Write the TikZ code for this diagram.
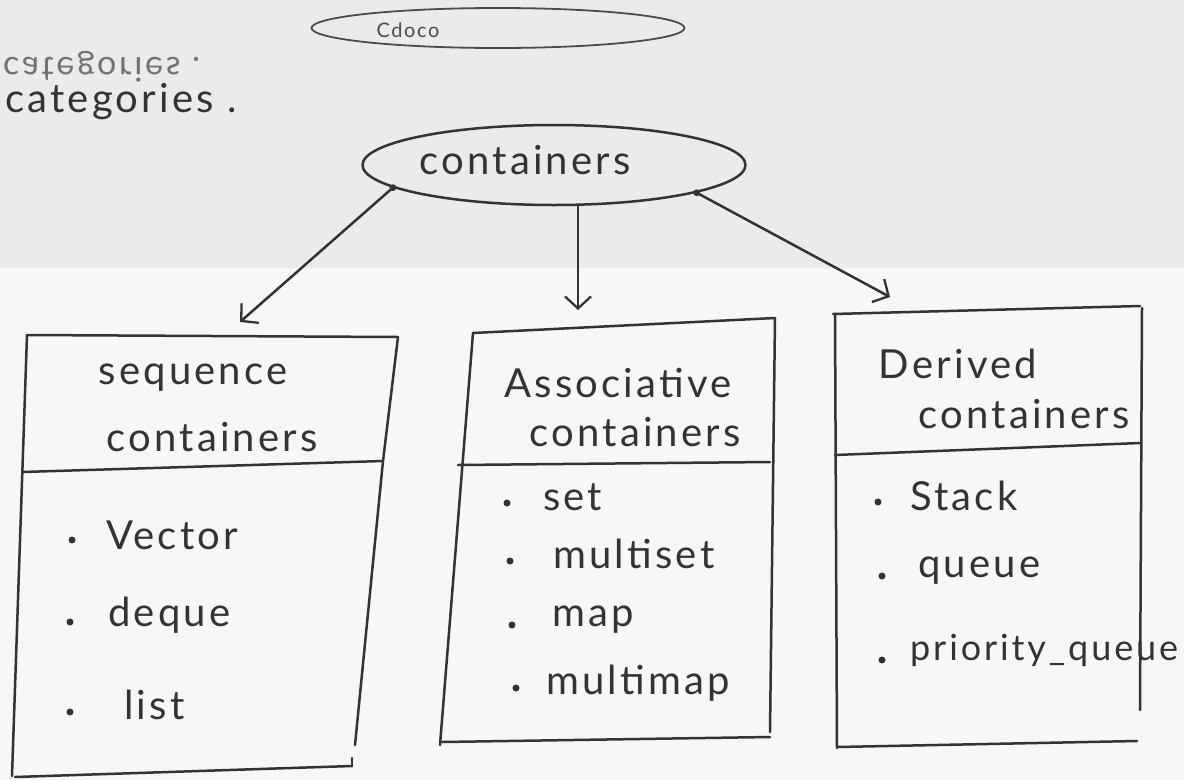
\documentclass[tikz,border=0pt]{standalone}
\usepackage{fontspec}
\setmainfont{Lato}
\usetikzlibrary{arrows.meta,shapes.geometric}
\newcommand{\handfont}[2][8]{\fontsize{#2}{#2}\selectfont\addfontfeature{LetterSpace=#1}}
\begin{document}
\begin{tikzpicture}[x=1pt,y=-1pt,
  ink/.style={draw=black!80, line width=2.5pt, line cap=round, line join=round},
  hand/.style={text=black!80, font=\handfont{40}, inner sep=0pt},
  item/.style={hand, anchor=west},
  dotmark/.style={fill=black!80, circle, inner sep=0pt, minimum size=7pt},
  arrowline/.style={ink, -{Straight Barb[length=12pt,width=26pt,line width=2.3pt]}},
  faint/.style={draw=black!70, line width=1.8pt}
]
% paper
\useasboundingbox (0,0) rectangle (1184,780);
\fill[black!3] (0,0) rectangle (1184,780);
\fill[black!8] (0,0) rectangle (1184,268);

% show-through from the back of the sheet
\node[ellipse, faint, minimum width=373pt, minimum height=40pt] (backoval) at (498,28) {};
\node[hand, text=black!70, font=\handfont{20}] (backtext) at (408,30) {Cdoco};
\node[hand, text=black!55, font=\handfont{34}, anchor=west,
      yscale=-1, transform shape] (backcats) at (3,67) {categories .};

% heading
\node[item] (cats) at (5,102) {categories .};

% root
\node[ellipse, ink, minimum width=383pt, minimum height=80pt] (cont) at (554,165) {};
\node[hand] (contlabel) at (525,160) {containers};

% arrow targets on the boxes
\coordinate (seqhead) at (240,322);
\coordinate (asshead) at (578,310);
\coordinate (derhead) at (890,297);

\draw[arrowline] (cont.188) -- (seqhead);
\draw[arrowline] ([xshift=24pt]cont.south) -- (asshead);
\draw[arrowline] (cont.349) -- (derhead);
\fill[black!80] (cont.188) circle (3.4pt);
\fill[black!80] (cont.349) circle (3.4pt);

% sequence containers box
\draw[ink] (27,335) -- (398,337);
\draw[ink] (27,335) -- (12,776);
\draw[ink] (398,337) -- (383,461) -- (355,745);
\draw[ink] (22,472) -- (383,461);
\draw[ink] (15,777) -- (352,766);
\draw[ink] (352,766) -- (352,758);
\node[hand] (seqt1) at (193,378) {sequence};
\node[hand] (seqt2) at (212,437) {containers};
\node[dotmark] (b1) at (72,540) {};
\node[item] (vec) at (106,535) {Vector};
\node[dotmark] (b2) at (70,622) {};
\node[item] (deq) at (108,615) {deque};
\node[dotmark] (b3) at (70,712) {};
\node[item] (lst) at (124,705) {list};

% associative containers box
\draw[ink] (473,333) -- (775,318);
\draw[ink] (473,333) -- (440,745);
\draw[ink] (775,318) -- (770,732);
\draw[ink] (458,465) -- (770,462);
\draw[ink] (442,742) -- (770,737);
\node[hand] (ast1) at (618,383) {Associative};
\node[hand] (ast2) at (635,432) {containers};
\node[dotmark] (b4) at (507,503) {};
\node[item] (set) at (543,497) {set};
\node[dotmark] (b5) at (510,561) {};
\node[item] (mset) at (553,554) {multiset};
\node[dotmark] (b6) at (512,625) {};
\node[item] (map) at (552,620) {map};
\node[dotmark] (b7) at (516,688) {};
\node[item] (mmap) at (546,683) {multimap};

% derived containers box
\draw[ink] (833,314) -- (1140,306);
\draw[ink] (835,314) -- (837,748);
\draw[ink] (1142,308) -- (1140,710);
\draw[ink] (835,455) -- (1140,443);
\draw[ink] (837,747) -- (1137,741);
\node[hand] (dert1) at (958,364) {Derived};
\node[hand] (dert2) at (1024,414) {containers};
\node[dotmark] (b8) at (878,502) {};
\node[item] (stk) at (910,496) {Stack};
\node[dotmark] (b9) at (882,576) {};
\node[item] (que) at (918,571) {queue};
\node[dotmark] (b10) at (882,660) {};
\node[item, font=\handfont{36}] (pq) at (910,650) {priority\_queue};
\end{tikzpicture}
\end{document}
